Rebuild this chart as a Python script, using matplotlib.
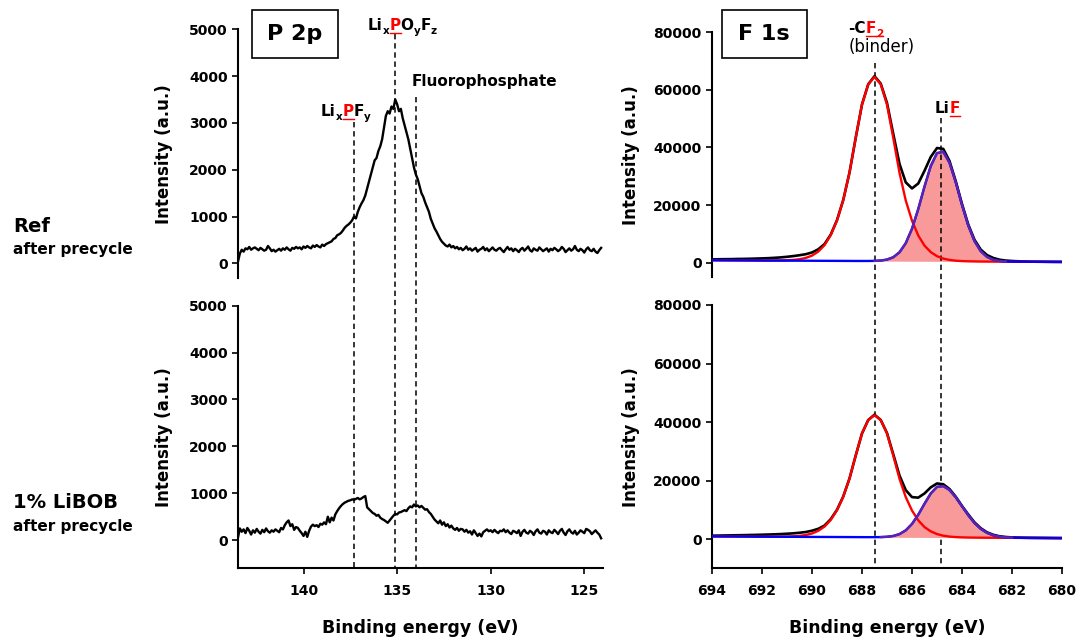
import numpy as np
import matplotlib
matplotlib.use("Agg")
import matplotlib.pyplot as plt
from matplotlib.lines import Line2D
from matplotlib.patches import Rectangle
from matplotlib.transforms import blended_transform_factory

plt.rcParams["font.family"] = ["DejaVu Sans"]
plt.rcParams["font.weight"] = "bold"

# ---------------- P 2p spectra (binding energy 143.5 -> 124.1 eV, 0.1 eV step) ----------------
p2p_start, p2p_step = 143.5, 0.1
p2p_ref = [
    40, 210, 290, 250, 320, 300, 350, 290, 320, 340,
    310, 280, 330, 300, 270, 290, 370, 320, 260, 290,
    250, 280, 310, 270, 320, 290, 340, 300, 270, 330,
    310, 350, 320, 340, 300, 360, 330, 370, 340, 320,
    380, 350, 390, 360, 340, 400, 370, 410, 430, 450,
    470, 520, 540, 600, 620, 650, 700, 760, 800, 830,
    870, 920, 1000, 960, 1100, 1200, 1280, 1350, 1450, 1600,
    1750, 1900, 2050, 2200, 2250, 2400, 2500, 2650, 2900, 3150,
    3250, 3200, 3350, 3300, 3500, 3400, 3250, 3300, 3100, 2950,
    2800, 2650, 2450, 2250, 2050, 1900, 1800, 1650, 1500, 1420,
    1300, 1200, 1100, 950, 850, 750, 680, 600, 520, 460,
    420, 380, 360, 400, 340, 370, 320, 350, 300, 330,
    280, 310, 360, 290, 320, 270, 300, 330, 250, 290,
    310, 350, 280, 320, 260, 300, 340, 290, 270, 310,
    330, 280, 240, 300, 350, 290, 320, 260, 310, 280,
    240, 300, 330, 270, 310, 360, 280, 250, 320, 290,
    270, 340, 300, 260, 290, 320, 250, 310, 280, 330,
    300, 260, 290, 350, 310, 240, 280, 320, 270, 300,
    370, 290, 260, 310, 280, 230, 300, 340, 280, 260,
    310, 250, 220, 280, 330,
]
p2p_libob = [
    60, 250, 180, 230, 150, 260, 200, 120, 210, 160,
    240, 180, 140, 220, 170, 250, 190, 160, 210, 180,
    230, 200, 170, 260, 230, 320, 380, 420, 300, 340,
    220, 280, 260, 200, 150, 90, 180, 70, 200, 290,
    330, 300, 320, 280, 350, 330, 380, 340, 500, 380,
    480, 420, 550, 620, 680, 730, 770, 800, 820, 840,
    850, 870, 860, 880, 900, 870, 890, 920, 940, 700,
    660, 620, 580, 560, 520, 540, 480, 450, 430, 400,
    370, 420, 470, 520, 560, 550, 590, 600, 620, 640,
    620, 680, 720, 700, 760, 720, 740, 700, 730, 690,
    650, 660, 600, 560, 500, 440, 400, 360, 420, 330,
    380, 300, 340, 270, 310, 250, 220, 260, 200, 240,
    230, 180, 220, 160, 190, 120, 210, 150, 90, 140,
    80, 170, 200, 230, 190, 210, 170, 220, 180, 150,
    200, 190, 230, 170, 210, 160, 130, 200, 180, 150,
    210, 90, 180, 220, 160, 140, 200, 170, 110, 190,
    230, 160, 140, 200, 180, 120, 210, 170, 150, 220,
    180, 130, 200, 240, 160, 110, 190, 230, 170, 140,
    200, 120, 160, 210, 180, 150, 240, 220, 190, 130,
    170, 210, 160, 120, 40,
]
p2p_marks = [137.3, 135.1, 134.0]   # LixPFy, LixPOyFz, fluorophosphate

# ---------------- F 1s spectra (694 -> 680 eV, 0.25 eV step) ----------------
f1s_start, f1s_step = 694.0, 0.25
f1s_base = [
    900, 890, 880, 870, 860, 850, 840, 820, 810, 800,
    790, 780, 770, 760, 750, 740, 730, 720, 710, 700,
    690, 680, 670, 660, 650, 640, 630, 620, 610, 600,
    590, 580, 570, 560, 550, 540, 530, 520, 510, 500,
    490, 480, 470, 460, 450, 440, 430, 420, 410, 400,
    390, 380, 370, 360, 350, 340, 330,
]
# Reference sample: measured envelope and fitted components
f1s_ref_data = [
    1200, 1250, 1280, 1300, 1350, 1380, 1420, 1480, 1550, 1630,
    1750, 1900, 2100, 2350, 2650, 3000, 3600, 4700, 6500, 9800,
    14800, 21800, 31300, 43400, 54900, 61900, 64700, 62100, 55400, 44700,
    34300, 27900, 25800, 27500, 31900, 36700, 39800, 39500, 35300, 28300,
    20400, 13300, 8000, 4600, 2700, 1700, 1100, 800, 650, 550,
    480, 430, 400, 380, 360, 340, 330,
]
f1s_ref_cf2 = [
    0, 0, 0, 0, 0, 0, 0, 0, 0, 0,
    30, 60, 130, 260, 510, 960, 1790, 3190, 5420, 8930,
    14040, 21050, 30620, 42750, 54230, 61250, 63800, 61250, 54230, 42750,
    30620, 21050, 14040, 8930, 5420, 3190, 1790, 960, 510, 260,
    130, 60, 30, 0, 0, 0, 0, 0, 0, 0,
    0, 0, 0, 0, 0, 0, 0,
]
f1s_ref_lif = [
    0, 0, 0, 0, 0, 0, 0, 0, 0, 0,
    0, 0, 0, 0, 0, 0, 0, 0, 0, 0,
    0, 0, 0, 0, 5, 15, 60, 180, 530, 1350,
    3080, 6240, 11260, 18080, 25890, 33010, 37500, 37960, 34200, 27460,
    19610, 12490, 7090, 3580, 1610, 650, 230, 70, 20, 0,
    0, 0, 0, 0, 0, 0, 0,
]
# 1% LiBOB sample
f1s_libob_data = [
    1150, 1180, 1220, 1250, 1300, 1330, 1380, 1420, 1480, 1540,
    1620, 1700, 1820, 1950, 2150, 2400, 2850, 3500, 4600, 6800,
    10000, 14550, 20700, 28600, 36100, 40700, 42500, 40700, 36220, 29000,
    21710, 16730, 14330, 14150, 15590, 17660, 19000, 18730, 17100, 14470,
    11310, 8400, 5700, 3700, 2300, 1450, 950, 700, 560, 500,
    450, 420, 400, 380, 360, 340, 330,
]
f1s_libob_cf2 = [
    0, 0, 0, 0, 0, 0, 0, 0, 0, 0,
    20, 40, 80, 170, 330, 630, 1170, 2090, 3540, 5840,
    9170, 13760, 20020, 27940, 35450, 40030, 41700, 40030, 35450, 27940,
    20020, 13760, 9170, 5840, 3540, 2090, 1170, 630, 330, 170,
    80, 40, 20, 0, 0, 0, 0, 0, 0, 0,
    0, 0, 0, 0, 0, 0, 0,
]
f1s_libob_lif = [
    0, 0, 0, 0, 0, 0, 0, 0, 0, 0,
    0, 0, 0, 0, 0, 0, 0, 0, 0, 0,
    0, 0, 0, 0, 0, 4, 15, 50, 160, 445,
    1100, 2390, 4590, 7750, 11500, 15030, 17300, 17580, 16260, 13800,
    10740, 7660, 5010, 3010, 1660, 840, 390, 165, 64, 23,
    8, 0, 0, 0, 0, 0, 0,
]
f1s_marks = [687.5, 684.85]   # -CF2 (binder), LiF

p2p_ticks_y = [0, 1000, 2000, 3000, 4000, 5000]
f1s_ticks_y = [0, 20000, 40000, 60000, 80000]
p2p_ticks_x = [140, 135, 130, 125]
f1s_ticks_x = [694, 692, 690, 688, 686, 684, 682, 680]

# ---------------- figure layout (pixel based) ----------------
W, H = 1081, 638
fig = plt.figure(figsize=(W / 100, H / 100), dpi=100)


def axes_px(left, top, right, bottom):
    ax = fig.add_axes([left / W, 1 - bottom / H, (right - left) / W, (bottom - top) / H])
    ax.set_facecolor("none")
    return ax


ax_pt = axes_px(238, 29.3, 603, 278.3)
ax_pb = axes_px(238, 305.7, 603, 568.3)
ax_ft = axes_px(712, 32.0, 1062, 277.3)
ax_fb = axes_px(712, 305.0, 1062, 568.3)

p_energy = p2p_start - p2p_step * np.arange(len(p2p_ref))
f_energy = f1s_start - f1s_step * np.arange(len(f1s_base))
base = np.array(f1s_base, dtype=float)

ax_pt.plot(p_energy, p2p_ref, color="black", lw=1.7, zorder=3)
ax_pb.plot(p_energy, p2p_libob, color="black", lw=1.7, zorder=3)


def draw_f1s(ax, data, cf2, lif):
    red = base + np.array(cf2, dtype=float)
    lif = np.array(lif, dtype=float)
    blue = base + lif
    ax.fill_between(f_energy, base, blue, color="#f89a9a", lw=0, zorder=1)
    ax.plot(f_energy, data, color="black", lw=1.9, zorder=3)
    ax.plot(f_energy, red, color="#ff0000", lw=1.7, zorder=4)
    ax.plot(f_energy, blue, color="#0000ff", lw=1.7, zorder=5)
    ax.plot(f_energy, np.ma.masked_where(lif < 40, blue), color="#5a23b0",
            lw=1.7, zorder=6)


draw_f1s(ax_ft, f1s_ref_data, f1s_ref_cf2, f1s_ref_lif)
draw_f1s(ax_fb, f1s_libob_data, f1s_libob_cf2, f1s_libob_lif)

for ax in (ax_pt, ax_pb):
    ax.set_xlim(143.5, 124.0)
    ax.set_yticks(p2p_ticks_y)
    ax.set_xticks(p2p_ticks_x)
ax_pt.set_ylim(-320, 5000)
ax_pb.set_ylim(-600, 5000)
for ax in (ax_ft, ax_fb):
    ax.set_xlim(694, 680)
    ax.set_yticks(f1s_ticks_y)
    ax.set_xticks(f1s_ticks_x)
ax_ft.set_ylim(-5000, 80000)
ax_fb.set_ylim(-10000, 80000)

for ax in (ax_pt, ax_pb, ax_ft, ax_fb):
    for s in ("top", "right"):
        ax.spines[s].set_visible(False)
    for s in ("left", "bottom"):
        ax.spines[s].set_linewidth(1.5)
    ax.tick_params(axis="y", direction="out", length=4.5, width=1.2, pad=3, labelsize=10)
    ax.tick_params(axis="x", direction="out", length=4, width=1.2, pad=7, labelsize=10)
    ax.set_ylabel("Intensity (a.u.)", fontsize=12, fontweight="bold")

for ax in (ax_pt, ax_ft):
    ax.spines["bottom"].set_visible(False)
    ax.tick_params(axis="x", bottom=False, labelbottom=False)

for ax in (ax_pt, ax_pb):
    ax.yaxis.set_label_coords(-0.178, 0.5)
for ax in (ax_ft, ax_fb):
    ax.yaxis.set_label_coords(-0.206, 0.5)

# x-axis titles
fig.text(420.5 / W, 1 - 632.7 / H, "Binding energy (eV)", ha="center", va="baseline",
         fontsize=12.5, fontweight="bold")
fig.text(887 / W, 1 - 632.7 / H, "Binding energy (eV)", ha="center", va="baseline",
         fontsize=12.5, fontweight="bold")


# vertical guide lines spanning both panels
def guide(ax, energy, top_px, bottom_px):
    tr = blended_transform_factory(ax.transData, fig.transFigure)
    ln = Line2D([energy, energy], [1 - top_px / H, 1 - bottom_px / H], transform=tr,
                color="black", lw=1.1, ls=(0, (3.5, 2.5)), clip_on=False, zorder=2)
    ax.add_line(ln)


for e, top in zip(p2p_marks, [121.7, 33.5, 96.7]):
    guide(ax_pt, e, top, 568.3)
for e, top in zip(f1s_marks, [63.3, 118.3]):
    guide(ax_ft, e, top, 568.3)

# panel title boxes
for (x0, x1, title) in [(251.7, 338.3, "P 2p"), (721.7, 806.7, "F 1s")]:
    rect = Rectangle((x0 / W, 1 - 58.3 / H), (x1 - x0) / W, 48.3 / H, transform=fig.transFigure,
                     facecolor="white", edgecolor="black", lw=1.2)
    fig.add_artist(rect)
    fig.text((x0 + x1) / 2 / W, 1 - 34 / H, title, ha="center", va="center",
             fontsize=16, fontweight="bold")

# chemical labels built from pieces (text, colour, subscript, underline)
renderer = fig.canvas.get_renderer()


def rich_label(x_px, y_px, pieces, size=11, weight="bold"):
    x = x_px
    size_px = size * 100 / 72
    for text, color, sub, underline in pieces:
        fs = size * 0.68 if sub else size
        yb = y_px + (0.22 * size_px if sub else 0)
        t = fig.text(x / W, 1 - yb / H, text, ha="left", va="baseline", fontsize=fs,
                     color=color, fontweight=weight)
        bb = t.get_window_extent(renderer)
        if underline:
            yu = 1 - (y_px + 2.2) / H
            fig.add_artist(Line2D([bb.x0 / W, bb.x1 / W], [yu, yu], transform=fig.transFigure,
                                  color=color, lw=1.0))
        x = bb.x1


K, R = "black", "#ff0000"
rich_label(368, 30.5, [("Li", K, False, False), ("x", K, True, False), ("P", R, False, True),
                       ("O", K, False, False), ("y", K, True, False), ("F", K, False, False),
                       ("z", K, True, False)])
rich_label(321, 116.5, [("Li", K, False, False), ("x", K, True, False), ("P", R, False, True),
                        ("F", K, False, False), ("y", K, True, False)])
rich_label(411.7, 86, [("Fluorophosphate", K, False, False)])
rich_label(848.3, 33.3, [("-C", K, False, False), ("F", R, False, True), ("2", R, True, True)])
rich_label(848.3, 51.5, [("(binder)", K, False, False)], size=12, weight="normal")
rich_label(935, 113.3, [("Li", K, False, False), ("F", R, False, True)])

# sample labels on the left
fig.text(13 / W, 1 - 231.7 / H, "Ref", fontsize=14, fontweight="bold", va="baseline")
fig.text(13 / W, 1 - 254.3 / H, "after precycle", fontsize=11, fontweight="bold", va="baseline")
fig.text(13 / W, 1 - 508.3 / H, "1% LiBOB", fontsize=14, fontweight="bold", va="baseline")
fig.text(13 / W, 1 - 531 / H, "after precycle", fontsize=11, fontweight="bold", va="baseline")

fig.savefig("out.png", dpi=100)
